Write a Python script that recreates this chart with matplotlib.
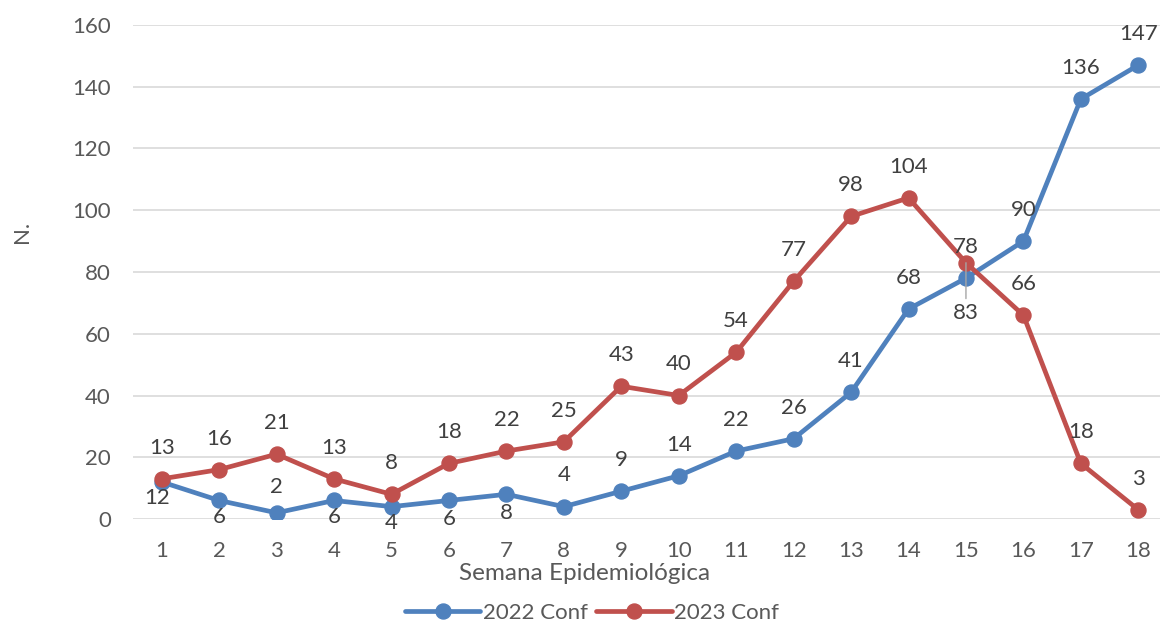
import matplotlib
matplotlib.use("Agg")
import matplotlib.pyplot as plt

weeks = list(range(1, 19))
conf_2022 = [12, 6, 2, 6, 4, 6, 8, 4, 9, 14, 22, 26, 41, 68, 78, 90, 136, 147]
conf_2023 = [13, 16, 21, 13, 8, 18, 22, 25, 43, 40, 54, 77, 98, 104, 83, 66, 18, 3]
yticks = [0, 20, 40, 60, 80, 100, 120, 140, 160]

# label offsets in pixels (negative = above the point)
off_2022 = [16, 17, -26, 17, 16, 19, 19, -32] + [-31] * 10
off_2023 = [-31] * 14 + [50] + [-31] * 3

BLUE = "#4f81bd"
RED = "#c0504d"
TXT = "#595959"
LBL = "#404040"

plt.rcParams["font.family"] = ["Lato", "DejaVu Sans"]
FS = 16

fig = plt.figure(figsize=(11.6, 6.25), dpi=100)
ax = fig.add_axes([133 / 1160, 1 - 519 / 625, 1034 / 1160, 494 / 625])

ax.plot(weeks, conf_2022, color=BLUE, lw=3.4, marker="o", ms=10.8, label="2022 Conf",
        solid_capstyle="round", zorder=3)
ax.plot(weeks, conf_2023, color=RED, lw=3.4, marker="o", ms=10.8, label="2023 Conf",
        solid_capstyle="round", zorder=4)

px = 72 / 100
for x, y, o in zip(weeks, conf_2022, off_2022):
    dx = -5 if x == 1 else 0
    ax.annotate(str(y), (x, y), xytext=(dx * px, -o * px), textcoords="offset points",
                ha="center", va="center", fontsize=FS, color=LBL, zorder=5)
for x, y, o in zip(weeks, conf_2023, off_2023):
    arrow = None
    if o > 40:
        arrow = dict(arrowstyle="-", color="#a6a6a6", lw=1, shrinkA=1, shrinkB=0)
    ax.annotate(str(y), (x, y), xytext=(0, -o * px), textcoords="offset points",
                ha="center", va="center", fontsize=FS, color=LBL, zorder=5,
                arrowprops=arrow)

ax.set_xlim(0.5, 18.5)
ax.set_ylim(0, 160)
ax.set_xticks(weeks)
ax.set_yticks(yticks)
ax.tick_params(axis="both", length=0, labelsize=FS, labelcolor=TXT)
ax.tick_params(axis="y", pad=16)
ax.tick_params(axis="x", pad=16)
ax.grid(axis="y", color="#d9d9d9", lw=1.2)
ax.set_axisbelow(True)
for s in ax.spines.values():
    s.set_visible(False)

fig.text(585 / 1160, 1 - 573 / 625, "Semana Epidemiológica", ha="center", va="center",
         fontsize=17.5, color=TXT)
fig.text(22 / 1160, 1 - 232 / 625, "N.", ha="center", va="center", rotation=90,
         fontsize=FS, color=TXT)

fig.legend(loc="center", bbox_to_anchor=(592 / 1160, 1 - 613 / 625), ncol=2, frameon=False,
           fontsize=FS, labelcolor=TXT, handlelength=3.4, handletextpad=0.1,
           columnspacing=0.4, borderaxespad=0)

fig.savefig("out.png", dpi=100)
